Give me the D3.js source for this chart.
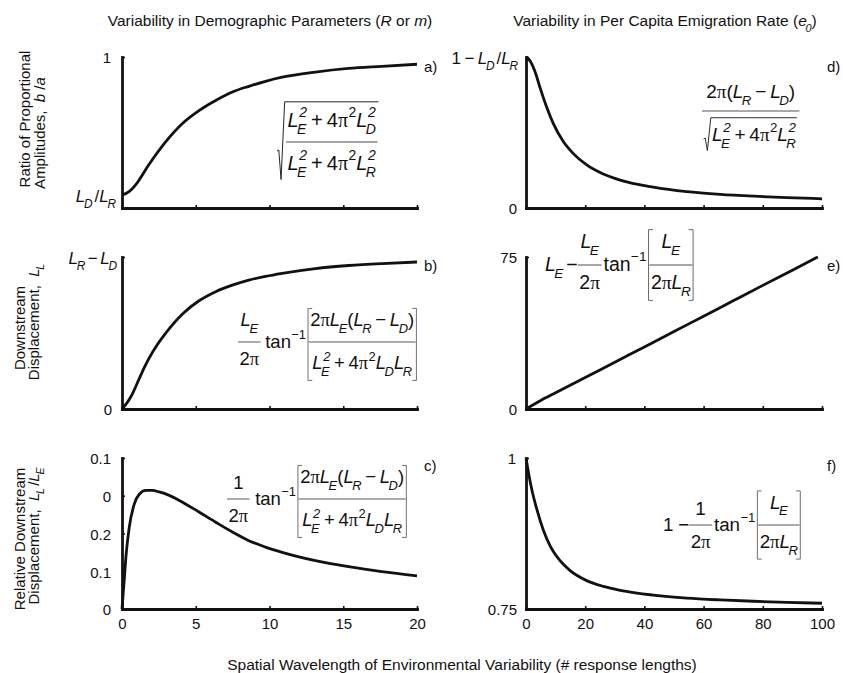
<!DOCTYPE html>
<html><head><meta charset="utf-8">
<script src="https://cdn.jsdelivr.net/npm/d3@7"></script>
<style>body{margin:0;background:#fff} text{white-space:pre;fill:#111}</style>
</head><body><svg id="c" width="843" height="673"></svg>
<script>
// ---------- data ----------
const xTicksLeft = [0, 5, 10, 15, 20];
const xTicksRight = [0, 20, 40, 60, 80, 100];
// a) ratio of proportional amplitudes (scaled so that 1 = top)
const aX = [0, 0.5, 0.95, 1.84, 2.97, 4.10, 5.22, 6.35, 7.48, 8.60, 9.73, 10.86, 13.11, 15.36, 17.61, 20];
const aY = [0.086, 0.11, 0.157, 0.29, 0.44, 0.56, 0.645, 0.712, 0.768, 0.806, 0.839, 0.866, 0.9, 0.924, 0.938, 0.952];
// b) downstream displacement (1 = L_R - L_D)
const bX = [0, 0.3, 0.61, 1.17, 1.5, 1.84, 2.4, 2.97, 4.1, 5.22, 6.35, 7.48, 8.6, 9.73, 10.86, 13.11, 15.36, 17.61, 20];
const bY = [0, 0.035, 0.082, 0.2, 0.27, 0.335, 0.425, 0.5, 0.625, 0.712, 0.772, 0.815, 0.848, 0.873, 0.893, 0.924, 0.944, 0.957, 0.967];
// c) relative downstream displacement
const cX = [0, 0.16, 0.27, 0.49, 0.83, 1.17, 1.62, 2.07, 2.52, 3.2, 4.1, 5.22, 6.35, 7.48, 8.6, 9.73, 10.86, 13.11, 15.36, 17.61, 20];
const cY = [0, 0.041, 0.07, 0.108, 0.139, 0.152, 0.157, 0.157, 0.155, 0.1505, 0.1415, 0.1285, 0.115, 0.102, 0.0905, 0.082, 0.075, 0.064, 0.056, 0.0495, 0.044];
const cTickVals = [0, 0.05, 0.1, 0.15, 0.2];
const cTickLabels = ["0", "0.1", "0.2", "0", "0.1"];
// d) emigration-rate amplitude ratio (1 = 1 - L_D/L_R)
const dX = [0, 1.35, 3.0, 4.7, 7.0, 9.2, 12.6, 16, 20.5, 26.1, 31.8, 43, 54.3, 65.6, 76.9, 88.2, 100];
const dY = [1.0, 0.975, 0.905, 0.8, 0.667, 0.56, 0.44, 0.36, 0.285, 0.225, 0.185, 0.138, 0.108, 0.09, 0.078, 0.069, 0.061];
// e) downstream displacement (emigration)
const eX = [0, 5, 10, 20, 30, 40, 50, 60, 70, 80, 90, 98.6];
const eY = [0, 4.2, 8.0, 15.5, 23.1, 30.6, 38.2, 45.8, 53.4, 61.0, 68.5, 75];
// f) relative downstream displacement (emigration)
const fX = [0, 0.8, 1.9, 3.6, 5.9, 8.1, 11.5, 14.9, 20.5, 26.1, 31.8, 43, 54.3, 65.6, 76.9, 88.2, 100];
const fY = [1.0, 0.9768, 0.949, 0.916, 0.880, 0.855, 0.830, 0.8135, 0.797, 0.7875, 0.781, 0.773, 0.768, 0.765, 0.7628, 0.761, 0.7595];

// ---------- text / math helpers ----------
const SANS = "'Liberation Sans', Arial, Helvetica, sans-serif";
const SERIF = "'Liberation Serif', 'Times New Roman', serif";
const INK = "#111";
const svg = d3.select("#c");
svg.append("rect").attr("width", 843).attr("height", 673).attr("fill", "#fff");

function put(g, s, x, y, size, italic, serif) {
  const t = g.append("text").attr("x", x).attr("y", y).attr("font-size", size)
    .attr("font-family", serif ? SERIF : SANS).attr("font-style", italic ? "italic" : "normal").text(s);
  return t.node().getComputedTextLength();
}
const L = (sub, sup) => ({b: "L", it: true, sub, sup});
const PI = (sup) => ({b: "\u03C0", serif: true, sup});
const SP = (e) => ({sp: e});
const OP = (s) => [SP(0.2), s, SP(0.2)];
const TANINV = {b: "tan", sup: "\u22121"};

function render(parent, items, s, opt) {
  opt = opt || {};
  const gap = opt.gap != null ? opt.gap : 0.3;
  const bpad = opt.bpad != null ? opt.bpad : 0.15;
  const g = parent.append("g");
  let x = 0, a = s * 0.72, d = s * 0.02;
  const lw = Math.max(1, s * 0.055);
  for (let it of items) {
    if (typeof it === "string") it = {t: it};
    if (it.sp != null) { x += it.sp * s; continue; }
    if (it.t != null) { x += put(g, it.t, x, 0, s, it.it, it.serif); continue; }
    if (it.b != null) {
      x += put(g, it.b, x, 0, s, it.it, it.serif);
      const ss = s * 0.7; let sw = 0;
      if (it.sup) { const off = it.it ? s * 0.03 : s * 0.02; sw = Math.max(sw, off + put(g, it.sup, x + off, -s * 0.48, ss, it.it)); a = Math.max(a, s * 0.48 + ss * 0.72); }
      if (it.sub) { const off = it.it ? -s * 0.08 : 0; sw = Math.max(sw, off + put(g, it.sub, x + off, s * 0.36, ss, true)); d = Math.max(d, s * 0.36 + ss * 0.02); }
      x += sw; continue;
    }
    if (it.frac) {
      const n = render(g, it.frac, s, opt), q = render(g, it.den, s, opt);
      const pad = s * 0.08, w = Math.max(n.w, q.w) + 2 * pad;
      const ax = s * 0.3, gp = s * gap;
      n.g.attr("transform", `translate(${x + (w - n.w) / 2},${-ax - gp - n.d})`);
      q.g.attr("transform", `translate(${x + (w - q.w) / 2},${-ax + gp + q.a})`);
      g.append("line").attr("x1", x).attr("x2", x + w).attr("y1", -ax).attr("y2", -ax)
        .attr("stroke", "#333").attr("stroke-width", lw * 0.8);
      a = Math.max(a, ax + gp + n.d + n.a); d = Math.max(d, -ax + gp + q.a + q.d);
      x += w; continue;
    }
    if (it.sqrt) {
      const c = render(g, it.sqrt, s, opt);
      const top = -(c.a + s * 0.25), bot = c.d + s * 0.12;
      const rw = s * 0.45, mid = top + (bot - top) * 0.62;
      g.append("path").attr("d", `M${x},${mid + s * 0.05} L${x + rw * 0.2},${mid} L${x + rw * 0.45},${bot} L${x + rw * 0.85},${top} H${x + rw + c.w + s * 0.05}`)
        .attr("fill", "none").attr("stroke", "#222").attr("stroke-width", lw * 0.9).attr("stroke-linejoin", "miter");
      c.g.attr("transform", `translate(${x + rw},0)`);
      a = Math.max(a, -top + lw); d = Math.max(d, bot);
      x += rw + c.w + s * 0.1; continue;
    }
    if (it.brk) {
      const c = render(g, it.brk, s, opt);
      const top = -(c.a + s * bpad), bot = c.d + s * bpad, bw = s * 0.28, gp = s * 0.04;
      g.append("path").attr("d", `M${x + bw},${top} H${x + 1} V${bot} H${x + bw}`)
        .attr("fill", "none").attr("stroke", "#444").attr("stroke-width", lw * 0.75);
      c.g.attr("transform", `translate(${x + 1 + gp},0)`);
      const xr = x + 1 + gp + c.w + gp;
      g.append("path").attr("d", `M${xr - bw + 1},${top} H${xr} V${bot} H${xr - bw + 1}`)
        .attr("fill", "none").attr("stroke", "#444").attr("stroke-width", lw * 0.75);
      a = Math.max(a, -top); d = Math.max(d, bot);
      x = xr + s * 0.05; continue;
    }
  }
  return {g, w: x, a, d};
}
function placeLeft(items, s, left, baseY, opt) {
  const r = render(svg, items, s, opt);
  r.g.attr("transform", `translate(${left},${baseY})`); return r;
}
function placeRight(items, s, right, centerY) {
  const r = render(svg, items, s);
  r.g.attr("transform", `translate(${right - r.w},${centerY + s * 0.36})`); return r;
}
function placeCenter(items, s, cx, baseY) {
  const r = render(svg, items, s);
  r.g.attr("transform", `translate(${cx - r.w / 2},${baseY})`); return r;
}
function placeRot(items, s, baseX, cy) {
  const r = render(svg, items, s);
  r.g.attr("transform", `translate(${baseX},${cy}) rotate(-90) translate(${-r.w / 2},0)`); return r;
}

// ---------- layout ----------
const COLS = [[122, 417], [526, 822]];
const ROWS = [[57, 208], [257, 409], [458, 609]];
const TICK = 15, MTICK = 17;
// label entries: [value, items, font size, right edge offset from axis]
const panels = [
  {col: 0, row: 0, x: aX, y: aY, xd: [0, 20], yd: [0, 1], xt: xTicksLeft, yt: [1], bottom: false,
   ylabels: [[1, ["1"], TICK, 11], [aY[0], [L("D"), SP(0.12), "/", L("R")], MTICK, 6]], lab: "a)"},
  {col: 0, row: 1, x: bX, y: bY, xd: [0, 20], yd: [0, 1], xt: xTicksLeft, yt: [1], bottom: false,
   ylabels: [[1, [L("R"), SP(0.15), "\u2212", SP(0.15), L("D")], MTICK, 5], [0, ["0"], TICK, 10]], lab: "b)"},
  {col: 0, row: 2, x: cX, y: cY, xd: [0, 20], yd: [0, 0.2], xt: xTicksLeft, yt: cTickVals, bottom: true,
   ylabels: cTickVals.map((v, i) => [v, [cTickLabels[i]], TICK, 11]), lab: "c)"},
  {col: 1, row: 0, x: dX, y: dY, xd: [0, 100], yd: [0, 1], xt: xTicksRight, yt: [1], bottom: false,
   ylabels: [[1, ["1", SP(0.2), "\u2212", SP(0.2), L("D"), SP(0.12), "/", L("R")], MTICK, 8], [0, ["0"], TICK, 9]], lab: "d)"},
  {col: 1, row: 1, x: eX, y: eY, xd: [0, 100], yd: [0, 75], xt: xTicksRight, yt: [75], bottom: false,
   ylabels: [[75, ["75"], TICK, 9], [0, ["0"], TICK, 9]], lab: "e)"},
  {col: 1, row: 2, x: fX, y: fY, xd: [0, 100], yd: [0.75, 1], xt: xTicksRight, yt: [1], bottom: true,
   ylabels: [[1, ["1"], TICK, 10], [0.75, ["0.75"], TICK, 9]], lab: "f)"}
];
const labY = [66, 265, 465];

panels.forEach(p => {
  const [x0, x1] = COLS[p.col], [y0, y1] = ROWS[p.row];
  const xs = d3.scaleLinear().domain(p.xd).range([x0, x1]);
  const ys = d3.scaleLinear().domain(p.yd).range([y1, y0]);
  const gx = svg.append("g").attr("transform", `translate(0,${y1})`)
    .call(d3.axisBottom(xs).tickValues(p.xt).tickSize(-3).tickSizeOuter(0).tickPadding(9)
      .tickFormat(p.bottom ? d3.format("d") : () => ""));
  const gy = svg.append("g").attr("transform", `translate(${x0},0)`)
    .call(d3.axisLeft(ys).tickValues(p.yt).tickSize(-3).tickSizeOuter(0).tickFormat(() => ""));
  [gx, gy].forEach(g => {
    g.select(".domain").attr("stroke", INK).attr("stroke-width", 2.8).attr("stroke-linecap", "square");
    g.selectAll(".tick line").attr("stroke", INK).attr("stroke-width", 1.6);
    g.selectAll("text").attr("font-size", TICK).attr("font-family", SANS).attr("fill", INK);
  });
  svg.append("path").datum(d3.zip(p.x, p.y)).attr("fill", "none").attr("stroke", INK)
    .attr("stroke-width", 2.8).attr("stroke-linejoin", "round")
    .attr("d", d3.line().x(d => xs(d[0])).y(d => ys(d[1])).curve(d3.curveMonotoneX));
  p.ylabels.forEach(([v, items, sz, off]) => placeRight(items, sz, x0 - off, ys(v) + 1));
  svg.append("text").attr("x", p.col === 0 ? 424 : 827).attr("y", labY[p.row] + 5.5)
    .attr("font-size", TICK).attr("font-family", SANS).text(p.lab);
});

// ---------- titles & axis labels ----------
placeCenter(["Variability in Demographic Parameters (", {t: "R", it: true}, " or ", {t: "m", it: true}, ")"], 15.5, 270, 26);
placeCenter(["Variability in Per Capita Emigration Rate (", {b: "e", it: true, sub: "0"}, ")"], 15.5, 665, 26);
placeCenter(["Spatial Wavelength of Environmental Variability (# response lengths)"], 15.5, 462, 670);

placeRot(["Ratio of Proportional"], 15, 30, 119);
placeRot(["Amplitudes,  ", {t: "b", it: true}, " /", {t: "a", it: true}], 15, 45, 133);
placeRot(["Downstream"], 15, 25, 328);
placeRot(["Displacement,  ", L("L")], 15, 39, 322);
placeRot(["Relative Downstream"], 15, 25, 539);
placeRot(["Displacement,  ", L("L"), SP(0.15), "/", L("E")], 15, 39, 536);

// ---------- formulas ----------
const OPTS = {gap: 0.5, bpad: 0.22};
const denLL = [L("E", "2"), ...OP("+"), "4", PI("2"), L("D"), L("R")];
const numLL = ["2", PI(), L("E"), "(", L("R"), ...OP("\u2212"), L("D"), ")"];
// a
{ const s = 20; placeLeft([{sqrt: [{frac: [L("E", "2"), ...OP("+"), "4", PI("2"), L("D", "2")],
                     den: [L("E", "2"), ...OP("+"), "4", PI("2"), L("R", "2")]}]}], s, 277, 142 + s * 0.3, {gap: 0.4}); }
// d
{ const s = 19; placeLeft([{frac: ["2", PI(), "(", L("R"), ...OP("\u2212"), L("D"), ")"],
            den: [{sqrt: [L("E", "2"), ...OP("+"), "4", PI("2"), L("R", "2")]}]}], s, 702, 111 + s * 0.3, {gap: 0.3}); }
// b
{ const s = 18.5; placeLeft([{frac: [L("E")], den: ["2", PI()]}, SP(0.25), TANINV, SP(0.05),
           {brk: [{frac: numLL, den: denLL}]}], s, 238, 342 + s * 0.3, OPTS); }
// c
{ const s = 18.5; placeLeft([{frac: ["1"], den: ["2", PI()]}, SP(0.3), TANINV, SP(0.05),
           {brk: [{frac: numLL, den: denLL}]}], s, 227, 499 + s * 0.3, OPTS); }
// e
{ const s = 19.5; placeLeft([L("E"), SP(0.15), "\u2212", {frac: [L("E")], den: ["2", PI()]}, SP(0.1), TANINV, SP(0.05),
           {brk: [{frac: [L("E")], den: ["2", PI(), L("R")]}]}], s, 545, 265 + s * 0.3, OPTS); }
// f
{ const s = 18.8; placeLeft(["1", SP(0.25), "\u2212", {frac: ["1"], den: ["2", PI()]}, SP(0.1), TANINV, SP(0.05),
           {brk: [{frac: [L("E")], den: ["2", PI(), L("R")]}]}], s, 663, 525 + s * 0.3, OPTS); }
</script></body></html>
